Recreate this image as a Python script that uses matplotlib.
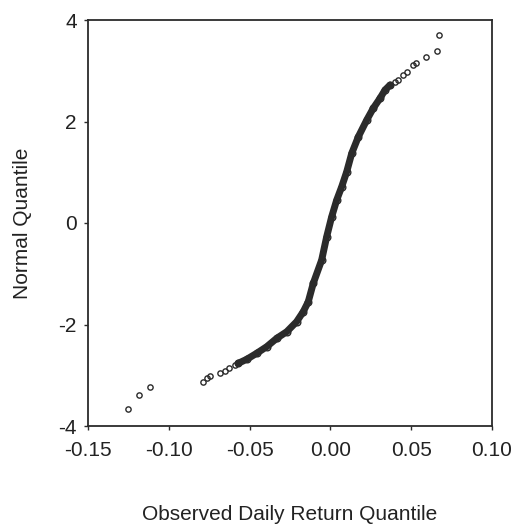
import matplotlib.pyplot as plt

# sparse lower tail (observed return, normal quantile)
low_x = [-0.1252, -0.1184, -0.1116, -0.0787, -0.0765, -0.0745, -0.0683, -0.0652, -0.0626, -0.0590, -0.0570]
low_y = [-3.665, -3.383, -3.232, -3.127, -3.060, -3.015, -2.962, -2.916, -2.863, -2.798, -2.764]

# dense body of the plot
mid_x = [-0.0570, -0.0518, -0.0456, -0.0394, -0.0332, -0.0270, -0.0209, -0.0168, -0.0137, -0.0106,
         -0.0054, -0.0023, 0.0008, 0.0039, 0.0070, 0.0101, 0.0132, 0.0173, 0.0225, 0.0265,
         0.0307, 0.0338, 0.0369]
mid_y = [-2.764, -2.686, -2.567, -2.437, -2.272, -2.142, -1.945, -1.748, -1.551, -1.188,
         -0.729, -0.270, 0.124, 0.453, 0.715, 1.011, 1.373, 1.700, 2.030, 2.260,
         2.457, 2.621, 2.719]

# sparse upper tail
up_x = [0.0369, 0.0400, 0.0420, 0.0451, 0.0472, 0.0513, 0.0530, 0.0592, 0.0662, 0.0674]
up_y = [2.719, 2.784, 2.818, 2.916, 2.981, 3.113, 3.147, 3.265, 3.389, 3.704]

plt.rcParams["font.family"] = ["Liberation Sans", "DejaVu Sans"]

fig = plt.figure(figsize=(5.14, 5.28), dpi=100)
ax = fig.add_axes([88 / 514, 1 - 426 / 528, 404 / 514, 406 / 528])

ink = "#2b2b2b"
ax.plot(mid_x, mid_y, "-", color=ink, lw=5, solid_capstyle="round", solid_joinstyle="round")
ax.plot(mid_x, mid_y, "o", ms=4.8, mfc="none", mec=ink, mew=1.0)
ax.plot(low_x, low_y, "o", ms=3.8, mfc="none", mec=ink, mew=1.0)
ax.plot(up_x, up_y, "o", ms=3.8, mfc="none", mec=ink, mew=1.0)

ax.set_xlim(-0.15, 0.10)
ax.set_ylim(-4, 4)
ax.set_xticks([-0.15, -0.10, -0.05, 0.00, 0.05, 0.10])
ax.set_xticklabels(["-0.15", "-0.10", "-0.05", "0.00", "0.05", "0.10"])
ax.set_yticks([-4, -2, 0, 2, 4])
ax.set_yticklabels(["-4", "-2", "0", "2", "4"])

for s in ax.spines.values():
    s.set_color(ink)
    s.set_linewidth(1.3)
ax.tick_params(direction="out", length=3, width=1, colors=ink, labelsize=15, labelcolor="#222222")
ax.tick_params(axis="x", pad=8)
ax.tick_params(axis="y", pad=5)

ax.set_xlabel("Observed Daily Return Quantile", fontsize=15, color="#222222", va="center")
ax.set_ylabel("Normal Quantile", fontsize=15, color="#222222", va="center")
ax.xaxis.set_label_coords(0.5, -0.219)
ax.yaxis.set_label_coords(-0.161, 0.5)

fig.savefig("out.png", dpi=100)
